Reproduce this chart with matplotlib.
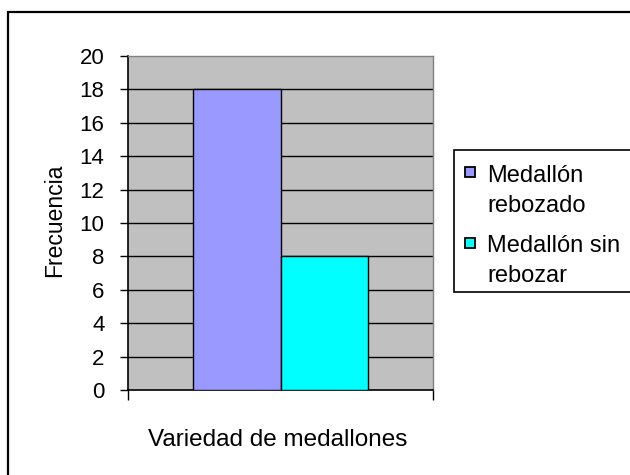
import matplotlib
matplotlib.use("Agg")
import matplotlib.pyplot as plt
from matplotlib.patches import Rectangle

plt.rcParams['font.family'] = ['Liberation Sans', 'DejaVu Sans']

series = ["Medallón\nrebozado", "Medallón sin\nrebozar"]
values = [18, 8]
colors = ["#9999FF", "#00FFFF"]
yticks = [0, 2, 4, 6, 8, 10, 12, 14, 16, 18, 20]
xlabel = "Variedad de medallones"
ylabel = "Frecuencia"

W, H = 630, 475
fig = plt.figure(figsize=(6.3, 4.75), dpi=100)

# outer chart border (left/top visible)
fig.patches.append(Rectangle((8 / W, -0.2), 2.0, 1 - 12 / H + 0.2, transform=fig.transFigure,
                             fill=False, edgecolor="black", linewidth=1.6))

ax = fig.add_axes([128 / W, 1 - 390 / H, 305 / W, (390 - 56) / H])
ax.set_facecolor("#C0C0C0")

# Excel-style: one category, gap width 150%
bw = 1 / (len(values) + 1.5)
start = -bw * len(values) / 2
for i, (v, c, lab) in enumerate(zip(values, colors, series)):
    ax.bar(start + bw * i, v, width=bw, align="edge", color=c, edgecolor="black",
           linewidth=1.0, zorder=3, label=lab)

ax.set_xlim(-0.5, 0.5)
ax.set_ylim(0, 20)
ax.set_yticks(yticks)
ax.set_xticks([-0.5, 0.5])
ax.set_xticklabels(["", ""])
for y in yticks[1:-1]:
    ax.axhline(y, color="black", linewidth=1.0, zorder=1)
ax.tick_params(axis="y", direction="out", length=6, width=1, labelsize=16, pad=11)
ax.tick_params(axis="x", direction="out", length=7, width=1)
for s in ["left", "bottom"]:
    ax.spines[s].set_color("black")
    ax.spines[s].set_linewidth(1.2)
for s in ["top", "right"]:
    ax.spines[s].set_color("#808080")
    ax.spines[s].set_linewidth(1.0)

fig.text(55 / W, 1 - 220 / H, ylabel, rotation=90, ha="center", va="center", fontsize=16.5)
fig.text(278 / W, 1 - 440 / H, xlabel, ha="center", va="center", fontsize=17.5)

# legend
fig.patches.append(Rectangle((454 / W, 1 - 292 / H), 0.5, (292 - 150) / H, transform=fig.transFigure,
                             fill=True, facecolor="white", edgecolor="black", linewidth=1.2))
mark_y = [172, 243]
first_baseline = [182, 252]
pitch = 30
msz = 10
for lab, c, my, by in zip(series, colors, mark_y, first_baseline):
    fig.patches.append(Rectangle((465 / W, 1 - (my + msz / 2) / H), msz / W, msz / H,
                                 transform=fig.transFigure,
                                 facecolor=c, edgecolor="black", linewidth=1.3))
    for k, line in enumerate(lab.split("\n")):
        fig.text(487 / W, 1 - (by + k * pitch) / H, line, ha="left", va="baseline", fontsize=17)

fig.savefig("out.png", dpi=100)
